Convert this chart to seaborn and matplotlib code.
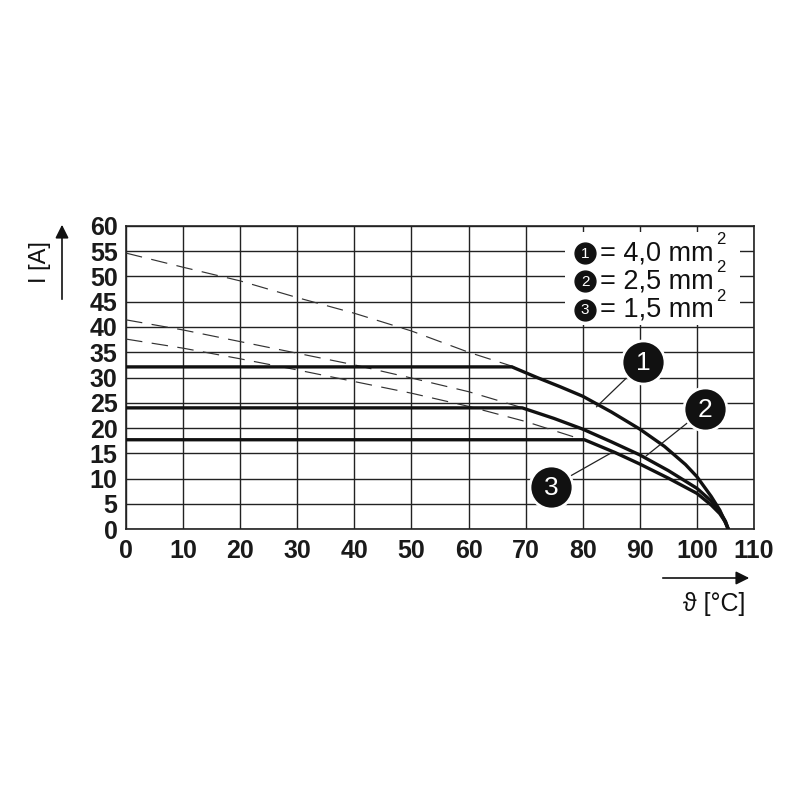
import matplotlib.pyplot as plt
import seaborn as sns
import pandas as pd
from matplotlib.patches import Rectangle

# derating curves (temperature in °C, current in A)
dash_t1 = [0, 10, 20, 30, 40, 50, 60, 68]
dash_i1 = [54.6, 51.8, 49.1, 45.8, 42.7, 39.2, 35.0, 32.1]
dash_t2 = [0, 10, 20, 30, 40, 50, 60, 69.5]
dash_i2 = [41.4, 39.4, 37.1, 34.8, 32.5, 29.9, 27.2, 24.0]
dash_t3 = [0, 10, 20, 30, 40, 50, 60, 70, 80]
dash_i3 = [37.6, 35.8, 33.7, 31.5, 29.2, 26.9, 24.3, 21.3, 17.7]

solid_t1 = [0, 67.6, 72, 76, 80, 85, 90, 94.3, 98, 100, 102.5, 104, 104.8, 105.5]
solid_i1 = [32.1, 32.1, 30.0, 28.2, 26.3, 23.2, 19.8, 16.4, 12.8, 10.4, 6.5, 3.8, 1.8, 0]
solid_t2 = [0, 69.4, 75, 80, 85, 90, 95, 100, 102.5, 104, 105, 105.5]
solid_i2 = [24.0, 24.0, 21.9, 19.8, 17.3, 14.7, 11.6, 8.1, 5.6, 3.5, 1.6, 0]
solid_t3 = [0, 80.3, 85.6, 90, 95, 100, 102.5, 104, 105, 105.5]
solid_i3 = [17.7, 17.7, 15.2, 12.9, 10.1, 7.1, 4.8, 3.1, 1.4, 0]

legend_labels = ["= 4,0 mm", "= 2,5 mm", "= 1,5 mm"]
curve_ids = ["1", "2", "3"]

sns.set_theme(style="white")
plt.rcParams['font.family'] = ['Liberation Sans', 'DejaVu Sans']

fig = plt.figure(figsize=(8, 8), dpi=100)
ax = fig.add_axes([0.1575, 0.3384, 0.785, 0.3794])

dashed = [(dash_t1, dash_i1), (dash_t2, dash_i2), (dash_t3, dash_i3)]
solid = [(solid_t1, solid_i1), (solid_t2, solid_i2), (solid_t3, solid_i3)]

for t, i in dashed:
    df = pd.DataFrame({'t': t, 'i': i})
    sns.lineplot(data=df, x='t', y='i', ax=ax, color='#333333', lw=0.85,
                 estimator=None, sort=False, zorder=3,
                 linestyle=(0, (14, 8)))
for t, i in solid:
    df = pd.DataFrame({'t': t, 'i': i})
    sns.lineplot(data=df, x='t', y='i', ax=ax, color='#111111', lw=2.4,
                 estimator=None, sort=False, zorder=4)

ax.set_xlim(0, 110)
ax.set_ylim(0, 60)
ax.set_xticks(range(0, 111, 10))
ax.set_yticks(range(0, 61, 5))
ax.grid(True, color='#222222', lw=1.0)
ax.set_axisbelow(True)
for s in ax.spines.values():
    s.set_color('#222222')
    s.set_linewidth(1.2)
ax.tick_params(axis='y', length=0, pad=6, labelsize=18, colors='#1a1a1a')
ax.tick_params(axis='x', length=0, pad=7, labelsize=18, colors='#1a1a1a')
for lab in ax.get_xticklabels() + ax.get_yticklabels():
    lab.set_fontweight('bold')
ax.set_xlabel('')
ax.set_ylabel('')

# legend block with white background
ax.add_patch(Rectangle((76.9, 40.4), 30.6, 18.4, facecolor='white',
                       edgecolor='none', zorder=5))
for k, (cid, lab) in enumerate(zip(curve_ids, legend_labels)):
    y = 54.6 - k * 5.6
    ax.plot(80.4, y, 'o', ms=15, color='#111111', zorder=6)
    ax.text(80.4, y - 0.1, cid, color='white', fontsize=11, ha='center',
            va='center', zorder=7)
    ax.text(83.0, y, lab, fontsize=19.5, ha='left', va='center',
            color='#111111', zorder=7)
    ax.text(103.4, y + 2.7, '2', fontsize=12, ha='left', va='center',
            color='#111111', zorder=7)

# callout circles with leader lines
callouts = [(90.6, 33.1, 82.4, 24.2), (101.4, 23.8, 91.1, 14.5),
            (74.5, 8.4, 85.3, 15.3)]
for cid, (cx, cy, lx, ly) in zip(curve_ids, callouts):
    ax.plot([cx, lx], [cy, ly], color='#222222', lw=0.9, zorder=5)
    ax.plot(cx, cy, 'o', ms=31, color='#111111', mec='white', mew=2.0,
            zorder=6)
    ax.text(cx, cy - 0.2, cid, color='white', fontsize=19, ha='center',
            va='center', zorder=7)

# axis titles with arrows
fig.text(40 / 800, 1 - 262 / 800, 'I [A]', rotation=90, fontsize=17,
         ha='center', va='center', color='#111111')
fig.add_artist(plt.Annotation('', xy=(62 / 800, 1 - 222 / 800),
                              xytext=(62 / 800, 1 - 302 / 800),
                              xycoords='figure fraction',
                              arrowprops=dict(arrowstyle='-|>', color='#111111',
                                              lw=1.2, mutation_scale=20)))
fig.text(714 / 800, 1 - 604 / 800, 'ϑ [°C]', fontsize=18,
         ha='center', va='center', color='#111111')
fig.add_artist(plt.Annotation('', xy=(752 / 800, 1 - 578 / 800),
                              xytext=(660 / 800, 1 - 578 / 800),
                              xycoords='figure fraction',
                              arrowprops=dict(arrowstyle='-|>', color='#111111',
                                              lw=1.2, mutation_scale=20)))

fig.savefig('out.png', dpi=100, facecolor='white')
